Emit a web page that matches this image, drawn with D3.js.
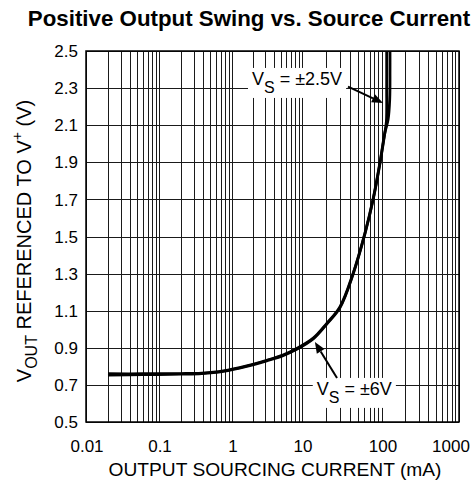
<!DOCTYPE html>
<html><head><meta charset="utf-8">
<script src="https://cdn.jsdelivr.net/npm/d3@7"></script>
<style>
body{margin:0;background:#fff}
svg{display:block}
text{font-family:Arial,"Liberation Sans",Helvetica,sans-serif;fill:#000}
</style>
</head><body><svg id="c" width="474" height="488"></svg>
<script>
// ---- data ----
const xTicks = [0.01, 0.1, 1, 10, 100, 1000];
const xTickLabels = ["0.01", "0.1", "1", "10", "100", "1000"];
const yTicks = [0.5, 0.7, 0.9, 1.1, 1.3, 1.5, 1.7, 1.9, 2.1, 2.3, 2.5];
const yTickLabels = ["0.5", "0.7", "0.9", "1.1", "1.3", "1.5", "1.7", "1.9", "2.1", "2.3", "2.5"];

// Vs = ±6V
const current6V = [0.02, 0.06, 0.2, 0.385, 0.76, 1.62, 3.13, 5.35, 8.4, 13.8, 20.4, 29.9, 43.4, 61.3, 77.2, 94.4, 109, 120, 126, 127, 127];
const vout6V    = [0.760, 0.760, 0.761, 0.764, 0.776, 0.803, 0.833, 0.861, 0.896, 0.952, 1.032, 1.122, 1.30, 1.52, 1.70, 1.90, 2.06, 2.13, 2.24, 2.40, 2.5];
// Vs = ±2.5V
const current25V = [0.02, 0.06, 0.2, 0.385, 0.76, 1.62, 3.13, 5.35, 8.4, 13.8, 20.4, 29.9, 43.4, 61.3, 77.2, 94.4, 108, 114, 115, 115];
const vout25V    = [0.753, 0.755, 0.758, 0.761, 0.773, 0.800, 0.830, 0.858, 0.892, 0.948, 1.028, 1.117, 1.295, 1.515, 1.695, 1.895, 2.05, 2.12, 2.30, 2.5];

const title = "Positive Output Swing vs. Source Current";
const xTitle = "OUTPUT SOURCING CURRENT (mA)";

// annotation anchors in data units
const annotations = [
  {main: "V", sub: "S", rest: " = ±2.5V", tx: 1.93, ty: 2.317, from: [37.6, 2.308], to: [103, 2.22]},
  {main: "V", sub: "S", rest: " = ±6V",  tx: 15.3, ty: 0.646, from: [27.4, 0.737], to: [14.5, 0.931]}
];

// ---- layout ----
const svg = d3.select("#c");
const L = 86, R = 459, T = 51, B = 422;

const x = d3.scaleLog().domain(xTicks).range([86, 159, 232, 302, 382, 459]);
const y = d3.scaleLinear().domain([0.5, 2.5]).range([B, T]);

// minor grid values
const gridX = [];
for (let n = -2; n <= 2; n++) for (let k = 1; k <= 9; k++) gridX.push(k * Math.pow(10, n));
gridX.push(1000);

const g = svg.append("g");

// vertical grid
g.selectAll("line.vx").data(gridX).join("line")
  .attr("x1", d => Math.round(x(d)) + 0.5).attr("x2", d => Math.round(x(d)) + 0.5)
  .attr("y1", T).attr("y2", B)
  .attr("stroke", "#1a1a1a").attr("stroke-width", 1);

// horizontal grid
g.selectAll("line.hy").data(yTicks).join("line")
  .attr("x1", L).attr("x2", R)
  .attr("y1", d => Math.round(y(d)) + 0.5).attr("y2", d => Math.round(y(d)) + 0.5)
  .attr("stroke", "#1a1a1a").attr("stroke-width", 1);

// border
g.append("rect").attr("x", L).attr("y", T).attr("width", R - L).attr("height", B - T)
  .attr("fill", "none").attr("stroke", "#000").attr("stroke-width", 1.5);

// tick labels
g.selectAll("text.yt").data(yTicks).join("text")
  .attr("x", L - 8).attr("y", d => y(d)).attr("dy", "0.36em")
  .attr("text-anchor", "end").attr("font-size", 17)
  .text((d, i) => yTickLabels[i]);

g.selectAll("text.xt").data(xTicks).join("text")
  .attr("x", (d, i) => i === xTicks.length - 1 ? x(d) - 8 : x(d) + 1)
  .attr("y", 452)
  .attr("text-anchor", "middle").attr("font-size", 17)
  .text((d, i) => xTickLabels[i]);

// titles
svg.append("text").attr("x", 249).attr("y", 26).attr("text-anchor", "middle")
  .attr("font-size", 22.3).attr("font-weight", "bold").text(title);

svg.append("text").attr("x", 275).attr("y", 476).attr("text-anchor", "middle")
  .attr("font-size", 19.2).text(xTitle);

const yt = svg.append("text").attr("transform", "translate(31,241) rotate(-90)")
  .attr("text-anchor", "middle").attr("font-size", 20);
yt.append("tspan").text("V");
yt.append("tspan").attr("font-size", 16).attr("dy", 6).text("OUT");
yt.append("tspan").attr("dy", -6).text(" REFERENCED TO V");
yt.append("tspan").attr("font-size", 14).attr("dy", -9).text("+");
yt.append("tspan").attr("dy", 9).text(" (V)");

// curves
const line = d3.line().x(d => x(d[0])).y(d => y(d[1])).curve(d3.curveCatmullRom.alpha(0.5));
const s25 = current25V.map((c, i) => [c, vout25V[i]]);
const s6 = current6V.map((c, i) => [c, vout6V[i]]);
svg.append("path").datum(s25).attr("d", line).attr("fill", "none").attr("stroke", "#000").attr("stroke-width", 2.8);
svg.append("path").datum(s6).attr("d", line).attr("fill", "none").attr("stroke", "#000").attr("stroke-width", 2.8);

// annotations
annotations.forEach(a => {
  const ag = svg.append("g");
  const t = ag.append("text").attr("x", x(a.tx)).attr("y", y(a.ty)).attr("font-size", 18);
  t.append("tspan").text(a.main);
  t.append("tspan").attr("font-size", 16).attr("dy", 8).text(a.sub);
  t.append("tspan").attr("dy", -8).text(a.rest);
  const bb = t.node().getBBox();
  ag.insert("rect", "text").attr("x", bb.x - 4).attr("y", bb.y - 1)
    .attr("width", bb.width + 8).attr("height", bb.height + 3).attr("fill", "#fff");
  const x1 = x(a.from[0]), y1 = y(a.from[1]), x2 = x(a.to[0]), y2 = y(a.to[1]);
  const ang = Math.atan2(y2 - y1, x2 - x1);
  const hl = 11, hw = 4.5;
  const bx = x2 - hl * Math.cos(ang), by = y2 - hl * Math.sin(ang);
  svg.append("line").attr("x1", x1).attr("y1", y1).attr("x2", bx).attr("y2", by)
    .attr("stroke", "#000").attr("stroke-width", 2);
  svg.append("path").attr("d", `M${x2},${y2}L${bx - hw * Math.sin(ang)},${by + hw * Math.cos(ang)}L${bx + hw * Math.sin(ang)},${by - hw * Math.cos(ang)}Z`)
    .attr("fill", "#000");
});
</script>
</body></html>
